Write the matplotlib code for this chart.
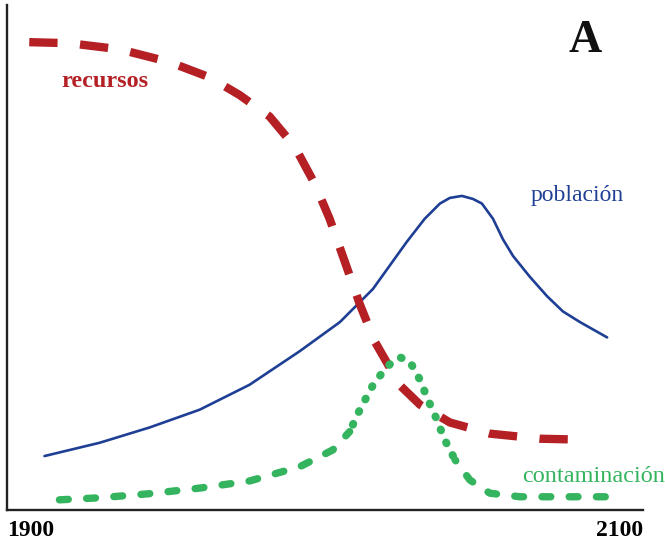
import matplotlib
matplotlib.use("Agg")
import matplotlib.pyplot as plt

# --- data (year, relative level 0-100) ---
pob_years = [1911.7, 1929.0, 1944.7, 1960.5, 1976.2, 1992.0, 2004.6, 2015.0, 2025.7,
             2031.3, 2036.1, 2039.2, 2043.0, 2046.5, 2049.3, 2052.8, 2055.9, 2059.1,
             2064.4, 2069.8, 2074.8, 2080.2, 2088.7]
pob_level = [11.0, 13.6, 16.6, 20.1, 25.0, 31.6, 37.3, 43.8, 53.1,
             57.6, 60.6, 61.7, 62.1, 61.5, 60.6, 57.6, 53.6, 50.3,
             46.2, 42.4, 39.4, 37.3, 34.3]

rec_years = [1906.9, 1919.5, 1935.3, 1951.0, 1963.6, 1973.1, 1982.5, 1990.4, 1996.7,
             2001.4, 2006.1, 2010.9, 2015.6, 2023.5, 2029.8, 2039.2, 2051.8, 2067.6, 2082.7]
rec_level = [92.3, 92.1, 90.9, 88.4, 85.4, 81.9, 77.7, 71.8, 64.5,
             57.6, 49.3, 40.8, 33.5, 24.9, 21.1, 17.6, 15.4, 14.4, 14.2]

con_years = [1916.4, 1929.0, 1944.7, 1960.5, 1976.2, 1992.0, 2002.4, 2007.7, 2010.9,
             2015.6, 2020.3, 2023.5, 2026.6, 2029.8, 2032.3, 2035.1, 2037.6, 2040.8,
             2045.5, 2051.8, 2061.3, 2073.9, 2088.2]
con_level = [2.4, 2.8, 3.6, 4.7, 6.1, 8.9, 12.2, 15.8, 20.1,
             25.6, 29.0, 30.4, 29.6, 26.0, 22.1, 18.2, 14.2, 10.3,
             6.3, 3.7, 3.0, 3.0, 3.0]

tick_years = [1900, 2100]
tick_labels = ["1900", "2100"]

RED = "#B52025"
BLUE = "#1F3F95"
GREEN = "#35B45F"
SERIF = ["Liberation Serif", "DejaVu Serif"]

fig = plt.figure(figsize=(6.65, 5.44), dpi=100)
ax = fig.add_axes([0.011, 0.0625, 0.956, 0.9283])
ax.set_xlim(1900, 2100)
ax.set_ylim(0.4, 99.6)

ax.plot(pob_years, pob_level, color=BLUE, lw=1.9, solid_capstyle="round",
        solid_joinstyle="round")
ax.plot(rec_years, rec_level, color=RED, lw=6.0, linestyle=(0, (3.4, 2.7)),
        dash_capstyle="butt")

# green: dashed tails, dotted hump (hand-drawn look)
ax.plot(con_years[:8], con_level[:8], color=GREEN, lw=5.3,
        linestyle=(0, (1.2, 2.5)), dash_capstyle="round")
ax.plot(con_years[7:18], con_level[7:18], color=GREEN, lw=5.8,
        linestyle=(0.8, (0.1, 1.65)), dash_capstyle="round")
ax.plot(con_years[17:], con_level[17:], color=GREEN, lw=5.3,
        linestyle=(1.0, (1.2, 2.5)), dash_capstyle="round")

ax.text(1930.6, 84.5, "recursos", color=RED, fontsize=17.5, fontweight="bold",
        family=SERIF, ha="center", va="center")
ax.text(2064.6, 62.2, "población", color=BLUE, fontsize=17,
        family=SERIF, ha="left", va="center")
ax.text(2062.0, 6.9, "contaminación", color=GREEN, fontsize=17.5,
        family=SERIF, ha="left", va="center")
ax.text(2081.7, 92.6, "A", color="#111111", fontsize=33, fontweight="bold",
        family=SERIF, ha="center", va="center")

for s in ["top", "right"]:
    ax.spines[s].set_visible(False)
for s in ["left", "bottom"]:
    ax.spines[s].set_linewidth(1.7)
    ax.spines[s].set_color("#222222")

ax.set_yticks([])
ax.set_xticks(tick_years)
ax.set_xticklabels(tick_labels, fontsize=17, fontweight="bold", family=SERIF)
ax.tick_params(axis="x", length=0, pad=7)
lbls = ax.get_xticklabels()
lbls[0].set_ha("left")
lbls[1].set_ha("right")

fig.savefig("out.png", dpi=100)
